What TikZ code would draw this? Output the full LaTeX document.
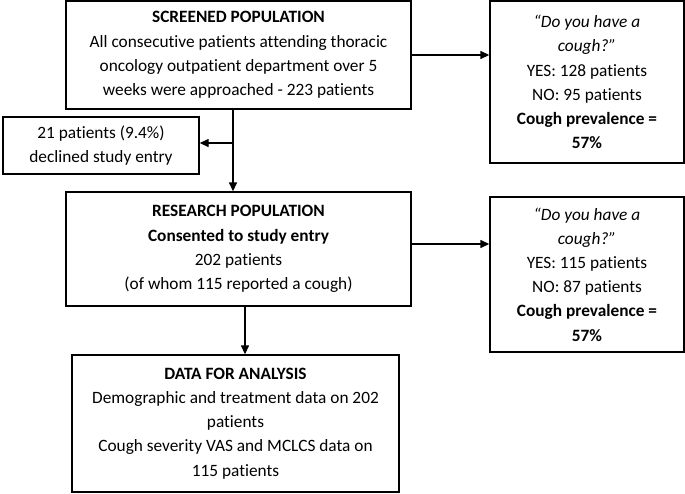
\documentclass[tikz,border=0pt]{standalone}
\usepackage{fontspec}
\setmainfont{Carlito}[Ligatures={NoCommon}]
\usetikzlibrary{arrows.meta,calc}
\begin{document}
\begin{tikzpicture}[x=1pt,y=-1pt,
  box/.style={draw, line width=1.4pt, align=center, inner sep=0pt,
    font=\fontsize{17.3}{24.2}\selectfont},
  arr/.style={line width=1.4pt, -{Triangle[length=9pt,width=8pt]}},
  ln/.style={line width=1.4pt}]
\useasboundingbox (0,0) rectangle (685,493);
\node[box, minimum width=345, minimum height=108] (scr) at (238.5,55)
  {\textbf{SCREENED POPULATION}\\All consecutive patients attending thoracic\\oncology outpatient department over 5\\weeks were approached - 223 patients};
\node[box, minimum width=194, minimum height=162] (q1) at (587,82)
  {\textit{“Do you have a}\\\textit{cough?”}\\YES: 128 patients\\NO: 95 patients\\\textbf{Cough prevalence =}\\\textbf{57\%}};
\node[box, minimum width=196, minimum height=57] (dec) at (101,145.5)
  {21 patients (9.4\%)\\declined study entry};
\node[box, minimum width=345, minimum height=114] (res) at (238.5,249)
  {\textbf{RESEARCH POPULATION}\\\textbf{Consented to study entry}\\202 patients\\(of whom 115 reported a cough)};
\node[box, minimum width=194, minimum height=155] (q2) at (587,274.5)
  {\textit{“Do you have a}\\\textit{cough?”}\\YES: 115 patients\\NO: 87 patients\\\textbf{Cough prevalence =}\\\textbf{57\%}};
\node[box, minimum width=327, minimum height=137] (dat) at (235.5,423.5)
  {\textbf{DATA FOR ANALYSIS}\\Demographic and treatment data on 202\\patients\\Cough severity VAS and MCLCS data on\\115 patients};
\coordinate (j) at (233,143);
\coordinate (k) at (245,306);
\draw[arr] (scr.east) -- (scr.east -| q1.west);
\draw[arr] ($(res.east)+(0,-5)$) -- ($(res.east -| q2.west)+(0,-5)$);
\draw[arr] (scr.south -| j) -- (res.north -| j);
\draw[arr] (j) -- (j -| dec.east);
\draw[arr] (res.south -| k) -- (dat.north -| k);
\end{tikzpicture}
\end{document}
